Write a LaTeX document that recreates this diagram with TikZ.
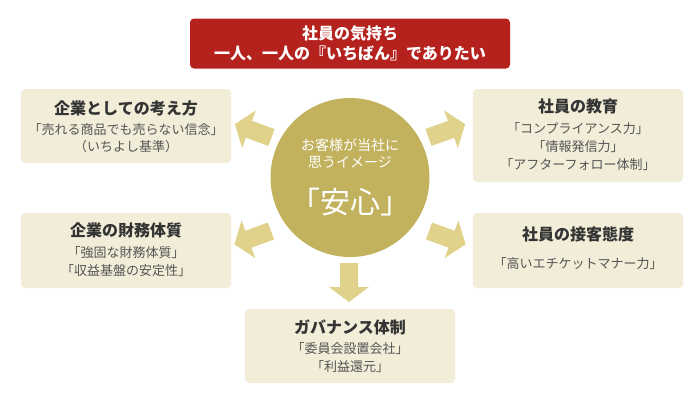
\documentclass[tikz,border=0pt]{standalone}
\usepackage{fontspec}
\setmainfont{Noto Sans CJK JP}
\usetikzlibrary{calc}
\definecolor{bannerred}{HTML}{B5221E}
\definecolor{boxfill}{HTML}{F1EDD8}
\definecolor{circfill}{HTML}{C2B25E}
\definecolor{arrowfill}{HTML}{E0D28A}
\definecolor{titlecol}{HTML}{333333}
\definecolor{bodycol}{HTML}{555555}
\begin{document}
\begin{tikzpicture}[x=1pt,y=-1pt,
  infobox/.style={fill=boxfill, rounded corners=4pt, inner sep=0pt, minimum width=210pt},
  bannerbox/.style={fill=bannerred, rounded corners=4pt, inner sep=0pt, minimum width=320pt, minimum height=50pt},
  bannertext/.style={text=white, font=\fontsize{16}{16}\selectfont\bfseries, inner sep=0pt},
  titletext/.style={text=titlecol, font=\fontsize{16}{16}\selectfont\bfseries, inner sep=0pt},
  bodytext/.style={text=bodycol, font=\fontsize{13}{13}\selectfont, inner sep=0pt},
  circsmall/.style={text=white, font=\fontsize{14}{14}\selectfont, inner sep=0pt},
  circbig/.style={text=white, font=\fontsize{30}{30}\selectfont, inner sep=0pt},
  blockarrow/.style={fill=arrowfill}
]
\useasboundingbox (0,0) rectangle (700,407);

% banner
\node (banner) [bannerbox] at (350,43.5) {};
\node (bn1) [bannertext] at (350,34) {社員の気持ち};
\node (bn2) [bannertext] at (350,53.5) {一人、一人の『いちばん』でありたい};

% centre circle
\node (circ) [circle, fill=circfill, minimum size=159pt, inner sep=0pt] at (350,177.5) {};
\node (c1) [circsmall] at (350,145) {お客様が当社に};
\node (c2) [circsmall] at (350,162) {思うイメージ};
\node (c3) [circbig] at (350,202) {「安心」};

% boxes
\node (b1) [infobox, minimum height=74pt] at (126,126) {};
\node (b1t) [titletext] at (126,108) {企業としての考え方};
\node (b1a) [bodytext] at (126,130) {「売れる商品でも売らない信念」};
\node (b1b) [bodytext] at (126,147) {（いちよし基準）};

\node (b2) [infobox, minimum height=75pt] at (126,250.5) {};
\node (b2t) [titletext] at (126,230) {企業の財務体質};
\node (b2a) [bodytext] at (126,253) {「強固な財務体質」};
\node (b2b) [bodytext] at (126,271) {「収益基盤の安定性」};

\node (b3) [infobox, minimum height=93pt] at (578,135.5) {};
\node (b3t) [titletext] at (578,106) {社員の教育};
\node (b3a) [bodytext] at (578,128.5) {「コンプライアンス力」};
\node (b3b) [bodytext] at (578,147) {「情報発信力」};
\node (b3c) [bodytext] at (578,165) {「アフターフォロー体制」};

\node (b4) [infobox, minimum height=75pt] at (578,250.5) {};
\node (b4t) [titletext] at (578,234) {社員の接客態度};
\node (b4a) [bodytext] at (578,263.5) {「高いエチケットマナー力」};

\node (b5) [infobox, minimum height=74pt] at (350,346) {};
\node (b5t) [titletext] at (350,327) {ガバナンス体制};
\node (b5a) [bodytext] at (350,348.5) {「委員会設置会社」};
\node (b5b) [bodytext] at (350,367) {「利益還元」};

% block arrows from the circle towards the boxes
\def\blockshape{(0,-9) -- (24,-9) -- (24,-20) -- (39,0) -- (24,20) -- (24,9) -- (0,9) -- cycle}
\fill[blockarrow, shift={($(circ.center)+(-78.5,-40)$)}, rotate=160] \blockshape;
\fill[blockarrow, shift={($(circ.center)+(-79,53.5)$)}, rotate=200] \blockshape;
\fill[blockarrow, shift={($(circ.center)+(78.5,-40)$)}, rotate=20] \blockshape;
\fill[blockarrow, shift={($(circ.center)+(79,53.5)$)}, rotate=-20] \blockshape;
\fill[blockarrow, shift={($(circ.center)+(-1,85.5)$)}, rotate=-90] \blockshape;
\end{tikzpicture}
\end{document}
